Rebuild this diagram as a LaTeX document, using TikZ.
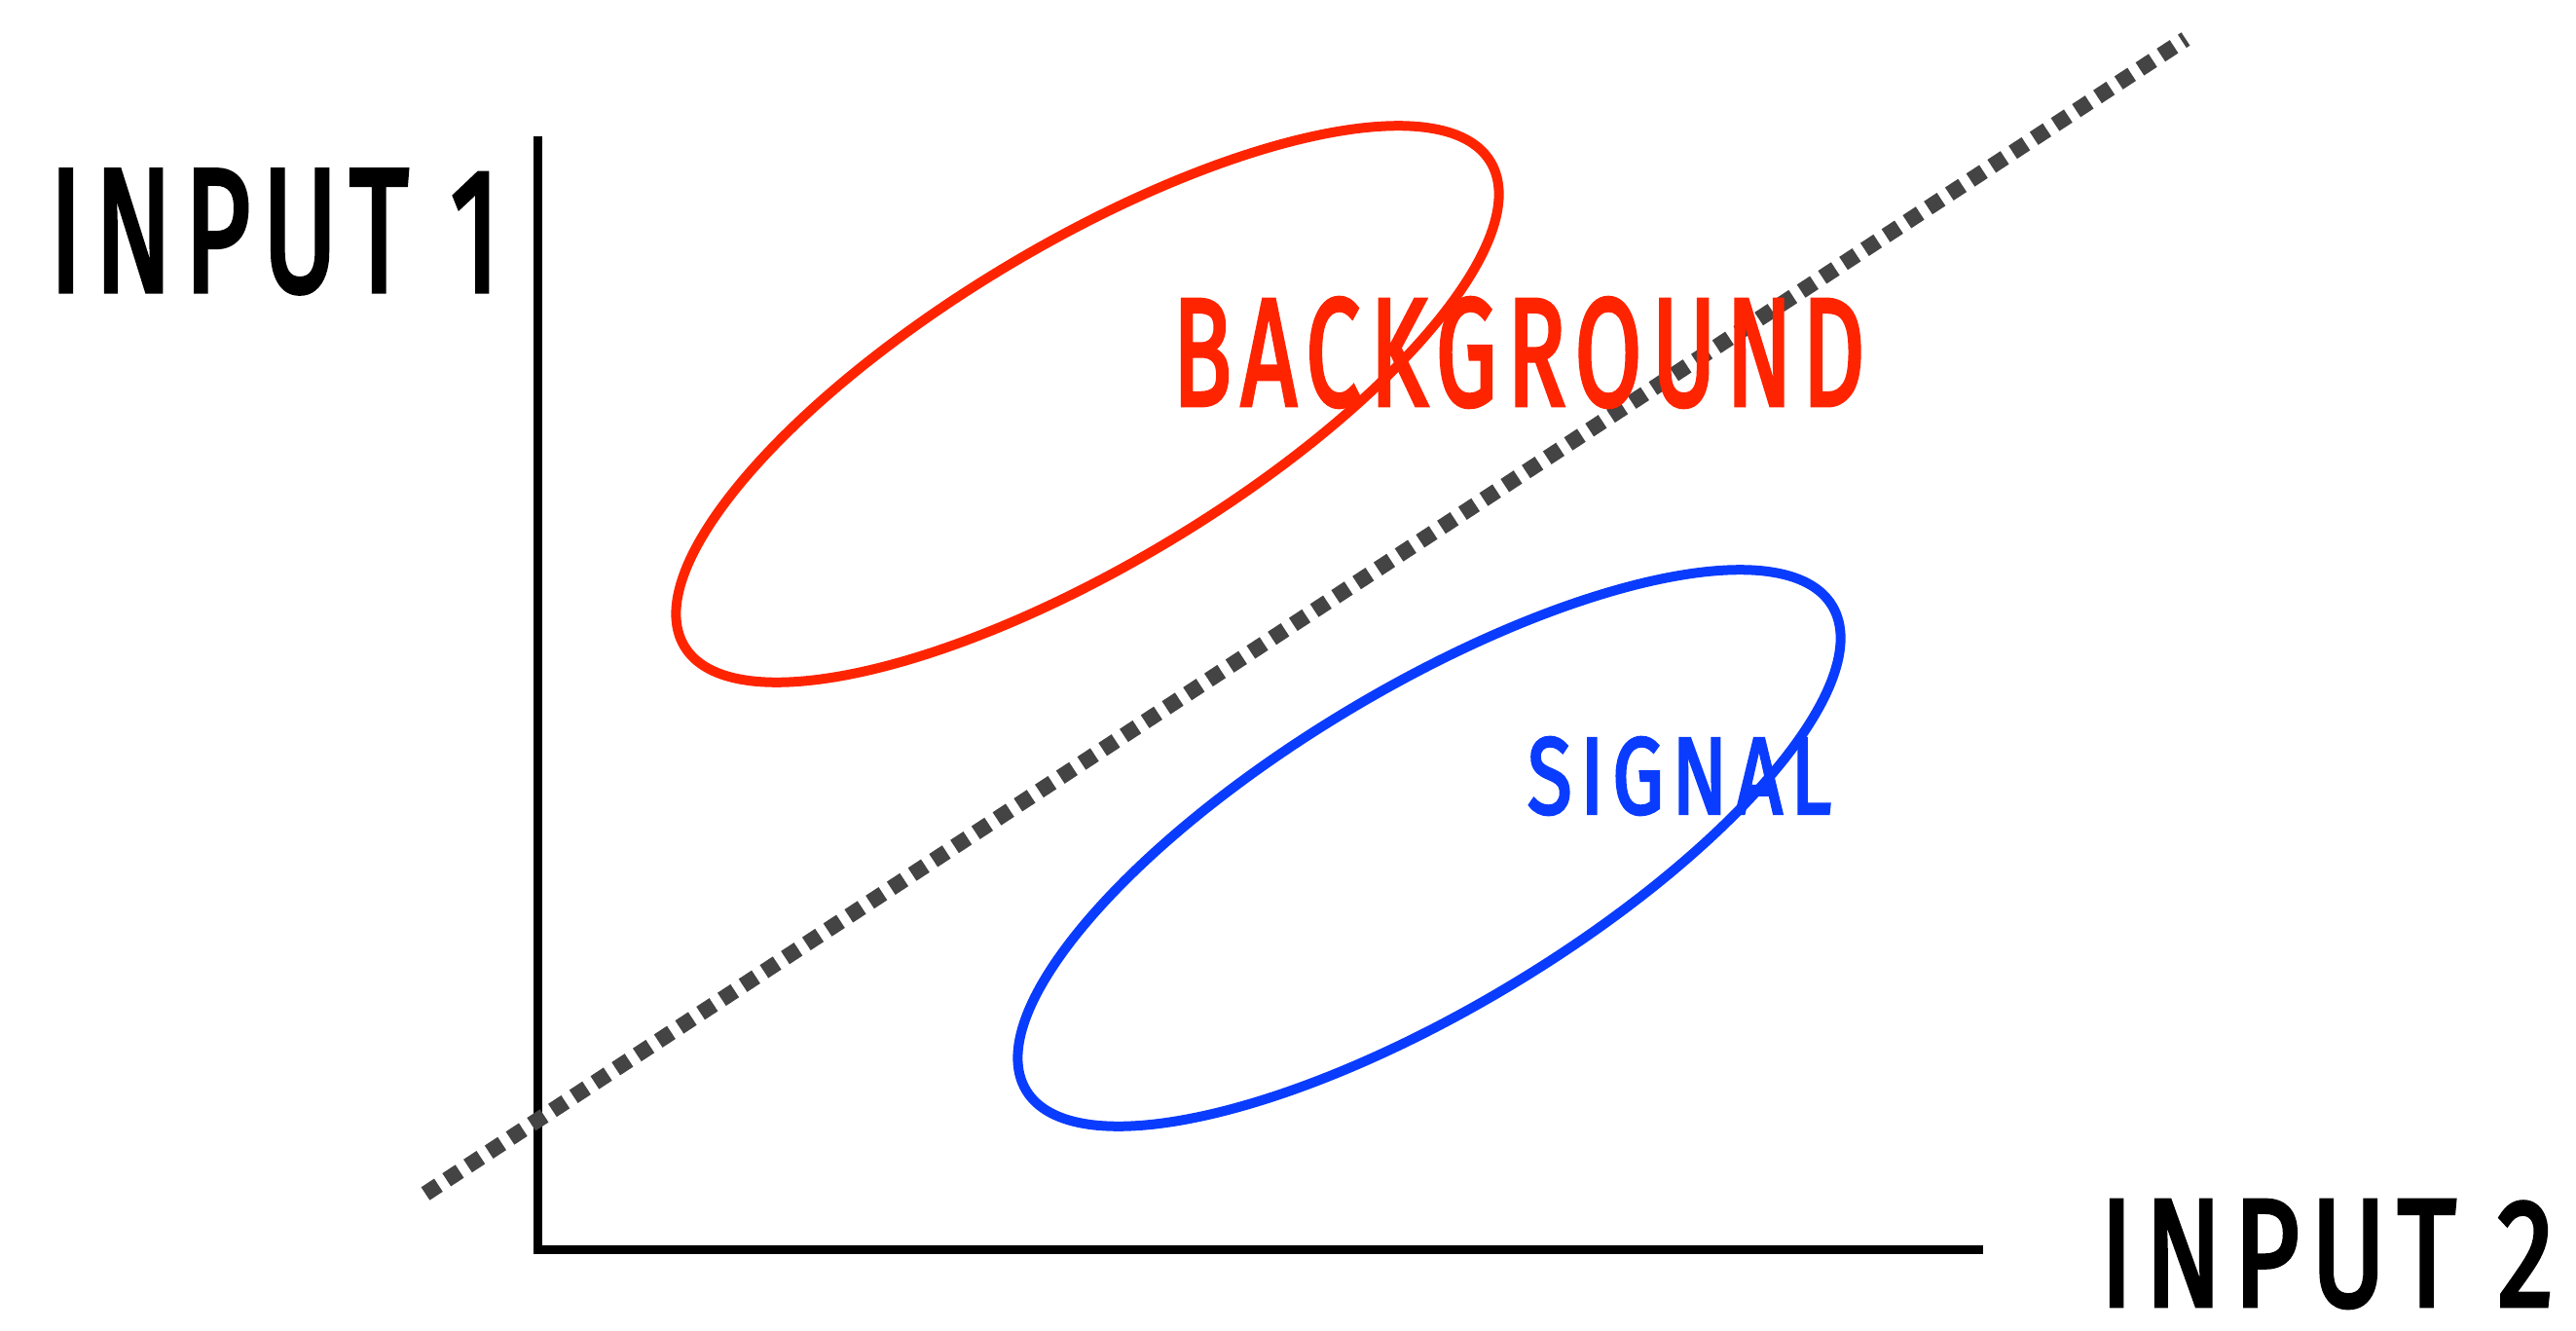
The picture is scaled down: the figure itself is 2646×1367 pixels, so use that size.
\documentclass[tikz,border=0pt]{standalone}
\usepackage{fontspec}
\setmainfont{Fira Sans}
\usepackage{graphicx}
\definecolor{bgred}{HTML}{FF2400}
\definecolor{sigblue}{HTML}{0A3CFF}
\definecolor{cutgray}{HTML}{444444}
\newcommand{\handlab}[1]{{\addfontfeatures{LetterSpace=10,FakeBold=3}#1}}
\begin{document}
\begin{tikzpicture}[x=1pt,y=-1pt,
  axis/.style={line width=9pt,black},
  blob/.style={line width=10pt,line cap=round,line join=round},
  cutline/.style={line width=16pt,cutgray,dash pattern=on 16pt off 10pt},
  lab/.style={inner sep=0pt,anchor=center}]
\useasboundingbox (0,0) rectangle (2646,1367);
% axes
\coordinate (O) at (552,1283);
\coordinate (Ytop) at (552,140);
\coordinate (Xend) at (2037,1283);
\draw[axis] (Ytop) -- (O) -- (Xend);
% cut line
\coordinate (C1) at (437,1226);
\coordinate (C2) at (2245,40);
\draw[cutline] (C1) -- (C2);
% ellipses
\coordinate (Bc) at (1117,415);
\coordinate (Sc) at (1468,871);
\draw[blob,bgred,rotate around={31:(Bc)}] (Bc) ellipse [x radius=483pt,y radius=164pt];
\draw[blob,sigblue,rotate around={31:(Sc)}] (Sc) ellipse [x radius=483pt,y radius=164pt];
% labels
\node[lab] (in1) at (282,238) {\resizebox{463pt}{124pt}{\handlab{INPUT 1}}};
\node[lab] (in2) at (2390,1288) {\resizebox{466pt}{108pt}{\handlab{INPUT 2}}};
\node[lab,text=bgred] (bg) at (1560,362) {\resizebox{711pt}{110pt}{\handlab{BACKGROUND}}};
\node[lab,text=sigblue] (sig) at (1725,797) {\resizebox{312pt}{78pt}{\handlab{SIGNAL}}};
\end{tikzpicture}
\end{document}
